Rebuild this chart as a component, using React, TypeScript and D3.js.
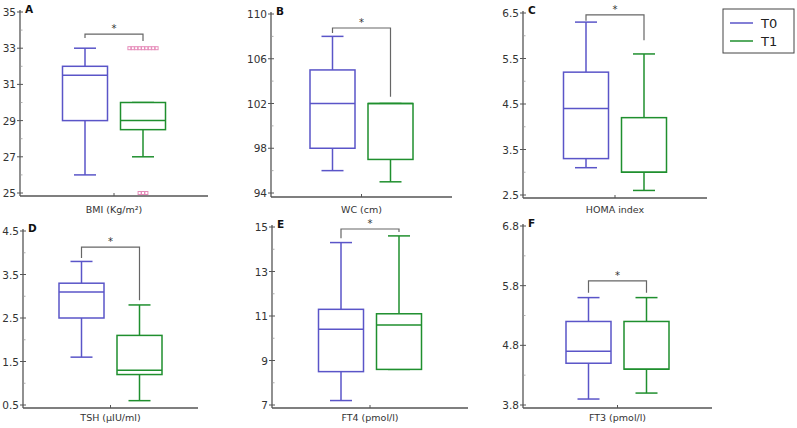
import React from "react";
import * as d3 from "d3";

const panelLetters = ["A", "B", "C", "D", "E", "F"];
const axisTitles = ["BMI (Kg/m²)", "WC (cm)", "HOMA index", "TSH (µIU/ml)", "FT4 (pmol/l)", "FT3 (pmol/l)"];
const yTickValues = [
  [25, 27, 29, 31, 33, 35],
  [94, 98, 102, 106, 110],
  [2.5, 3.5, 4.5, 5.5, 6.5],
  [0.5, 1.5, 2.5, 3.5, 4.5],
  [7, 9, 11, 13, 15],
  [3.8, 4.8, 5.8, 6.8],
];
const groups = ["T0", "T1"];
// [min, q1, median, q3, max]
const t0Stats = [
  [26, 29, 31.5, 32, 33],
  [96, 98, 102, 105, 108],
  [3.1, 3.3, 4.4, 5.2, 6.3],
  [1.6, 2.5, 3.1, 3.3, 3.8],
  [7.2, 8.5, 10.4, 11.3, 14.3],
  [3.9, 4.5, 4.7, 5.2, 5.6],
];
const t1Stats = [
  [27, 28.5, 29, 30, 30],
  [95, 97, 102, 102, 102],
  [2.6, 3.0, 3.0, 4.2, 5.6],
  [0.6, 1.2, 1.3, 2.1, 2.8],
  [8.6, 8.6, 10.6, 11.1, 14.6],
  [4.0, 4.4, 4.4, 5.2, 5.6],
];
const t1Outliers = [
  [33, 33, 33, 33, 33, 33, 33, 33, 33, 25, 25, 25],
  [], [], [], [], [],
];
// significance bracket: [top, left leg end, right leg end]
const brackets = [
  [33.78, 33.57, 33.4],
  [108.75, 108.3, 102.6],
  [6.46, 6.33, 5.9],
  [4.13, 3.88, 2.91],
  [14.91, 14.5, 14.78],
  [5.88, 5.68, 5.68],
];

const layout = [
  { x0: 20, x1: 208, yTop: 12, yBot: 193, yAxis: 196, yTitle: 213 },
  { x0: 271, x1: 452, yTop: 14, yBot: 193, yAxis: 197, yTitle: 213 },
  { x0: 523, x1: 707, yTop: 13, yBot: 195, yAxis: 198, yTitle: 213 },
  { x0: 23, x1: 198, yTop: 231, yBot: 405, yAxis: 408, yTitle: 421 },
  { x0: 272, x1: 468, yTop: 227, yBot: 405, yAxis: 408, yTitle: 421 },
  { x0: 523, x1: 712, yTop: 226, yBot: 405, yAxis: 408, yTitle: 421 },
];

const colors = ["#5a55c8", "#1f8f2e"];
const axisColor = "#555";
const font = "DejaVu Sans, Verdana, sans-serif";

function Panel({ i }: { i: number }) {
  const L = layout[i];
  const ticks = yTickValues[i];
  const y = d3.scaleLinear().domain([ticks[0], ticks[ticks.length - 1]]).range([L.yBot, L.yTop]);
  const mid = (L.x0 + L.x1) / 2;
  const x = d3.scalePoint<string>().domain(groups).range([mid - 29, mid + 29]);
  const boxW = 45;
  const capW = 22;
  const step = ticks[1] - ticks[0];
  const minors = ticks.slice(0, -1).map((t) => t + step / 2);
  const stats = [t0Stats[i], t1Stats[i]];
  const br = brackets[i];
  const xl = x("T0")!;
  const xr = x("T1")!;
  const outs = t1Outliers[i];
  const outGroups = d3.groups(outs, (v) => v);
  return (
    <g>
      <line x1={L.x0} x2={L.x0} y1={L.yTop - 2} y2={L.yAxis} stroke={axisColor} strokeWidth={1.3} />
      {ticks.map((t) => (
        <g key={t}>
          <line x1={L.x0 - 3} x2={L.x0 + 3} y1={y(t)} y2={y(t)} stroke={axisColor} strokeWidth={1} />
          <text x={L.x0 - 4} y={y(t) + 4} textAnchor="end" fontSize={10.5} fontFamily={font} fill="#333">
            {t.toString()}
          </text>
        </g>
      ))}
      {minors.map((t) => (
        <line key={"m" + t} x1={L.x0} x2={L.x0 + 2.5} y1={y(t)} y2={y(t)} stroke="#999" strokeWidth={0.8} />
      ))}
      <line x1={L.x0} x2={L.x1} y1={L.yAxis} y2={L.yAxis} stroke={axisColor} strokeWidth={1.3} />
      <line x1={mid} x2={mid} y1={L.yAxis} y2={L.yAxis - 3} stroke={axisColor} strokeWidth={1} />
      <text x={mid} y={L.yTitle} textAnchor="middle" fontSize={9.5} fontFamily={font} fill="#333">
        {axisTitles[i]}
      </text>
      <text x={L.x0 + 5} y={L.yTop + 1} fontSize={10.5} fontWeight="bold" fontFamily={font} fill="#111">
        {panelLetters[i]}
      </text>
      {groups.map((g, gi) => {
        const s = stats[gi];
        const cx = x(g)!;
        const c = colors[gi];
        return (
          <g key={g} stroke={c} strokeWidth={1.5} fill="none">
            <line x1={cx} x2={cx} y1={y(s[0])} y2={y(s[1])} />
            <line x1={cx} x2={cx} y1={y(s[3])} y2={y(s[4])} />
            <line x1={cx - capW / 2} x2={cx + capW / 2} y1={y(s[0])} y2={y(s[0])} />
            <line x1={cx - capW / 2} x2={cx + capW / 2} y1={y(s[4])} y2={y(s[4])} />
            <rect x={cx - boxW / 2} y={y(s[3])} width={boxW} height={y(s[1]) - y(s[3])} fill="white" />
            <line x1={cx - boxW / 2} x2={cx + boxW / 2} y1={y(s[2])} y2={y(s[2])} />
          </g>
        );
      })}
      {outGroups.map(([v, arr]) =>
        arr.map((_, k) => {
          const pitch = 3.4;
          const ox = xr + (k - (arr.length - 1) / 2) * pitch;
          return (
            <rect key={v + "-" + k} x={ox - 1.5} y={y(v) - 1.5} width={3} height={3} fill="none" stroke="#e68cba" strokeWidth={1} />
          );
        })
      )}
      <path
        d={`M${xl},${y(br[1])}V${y(br[0])}H${xr}V${y(br[2])}`}
        fill="none"
        stroke="#666"
        strokeWidth={1.2}
      />
      <text x={(xl + xr) / 2} y={y(br[0]) - 2} textAnchor="middle" fontSize={10} fontFamily={font} fill="#333">
        *
      </text>
    </g>
  );
}

export default function App() {
  return (
    <svg width={797} height={428} style={{ position: "absolute", left: 0, top: 0, background: "white" }}>
      <rect width={797} height={428} fill="white" />
      {layout.map((_, i) => (
        <Panel key={i} i={i} />
      ))}
      <rect x={723} y={9} width={71} height={44} fill="white" stroke="#444" strokeWidth={1} />
      {groups.map((g, gi) => (
        <g key={g}>
          <line x1={730} x2={753} y1={23 + gi * 18} y2={23 + gi * 18} stroke={colors[gi]} strokeWidth={1.5} />
          <text x={761} y={23 + gi * 18 + 5} fontSize={13} fontFamily={font} fill="#222">
            {g}
          </text>
        </g>
      ))}
    </svg>
  );
}
